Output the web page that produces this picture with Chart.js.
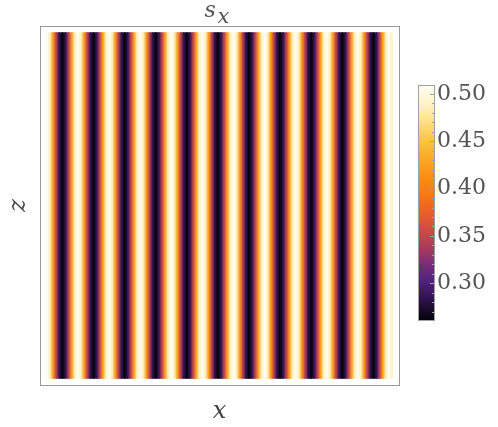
<!DOCTYPE html>
<html>
<head>
<meta charset="utf-8">
<script src="https://cdn.jsdelivr.net/npm/chart.js@4.4.1/dist/chart.umd.min.js"></script>
<style>
    html, body { margin: 0; padding: 0; background: #fff; }
    #plot { display: block; }
</style>
</head>
<body>
<canvas id="plot" width="498" height="427"></canvas>
<script>
// s_x read across x, one value per grid column (left -> right); constant along z
const sxValues = [
    0.509, 0.485, 0.423, 0.347, 0.285, 0.261, 0.285, 0.347, 0.423, 0.485,
    0.509, 0.485, 0.423, 0.347, 0.285, 0.261, 0.285, 0.347, 0.423, 0.485,
    0.509, 0.485, 0.423, 0.347, 0.285, 0.261, 0.285, 0.347, 0.423, 0.485,
    0.509, 0.485, 0.423, 0.347, 0.285, 0.261, 0.285, 0.347, 0.423, 0.485,
    0.509, 0.485, 0.423, 0.347, 0.285, 0.261, 0.285, 0.347, 0.423, 0.485,
    0.509, 0.485, 0.423, 0.347, 0.285, 0.261, 0.285, 0.347, 0.423, 0.485,
    0.509, 0.485, 0.423, 0.347, 0.285, 0.261, 0.285, 0.347, 0.423, 0.485,
    0.509, 0.485, 0.423, 0.347, 0.285, 0.261, 0.285, 0.347, 0.423, 0.485,
    0.509, 0.485, 0.423, 0.347, 0.285, 0.261, 0.285, 0.347, 0.423, 0.485,
    0.509, 0.485, 0.423, 0.347, 0.285, 0.261, 0.285, 0.347, 0.423, 0.485,
    0.509, 0.485, 0.423, 0.347, 0.285, 0.261, 0.285, 0.347, 0.423, 0.485,
    0.509, 0.485
];
const zRange = [0, 1];
const colorbarRange = [0.261, 0.5095];
const colorbarTicks = [0.30, 0.35, 0.40, 0.45, 0.50];

// Sunset-like colour map (value -> colour)
const cmapValues = [0.261, 0.275, 0.29, 0.305, 0.32, 0.335, 0.35, 0.365, 0.38,
                    0.395, 0.41, 0.425, 0.44, 0.455, 0.47, 0.485, 0.5095];
const cmapColors = ['#050308', '#1f0c33', '#3a1763', '#55247f', '#7a2c7a', '#a3385f',
                    '#c4454a', '#dc5535', '#ee6620', '#f77a12', '#fa8c14', '#fb9f20',
                    '#fcb430', '#fdc94f', '#fedf80', '#fff0b8', '#fffdf6'];

const SERIF = '"DejaVu Serif", "Liberation Serif", serif';

function hexToRgb(hex) {
    const n = parseInt(hex.slice(1), 16);
    return [(n >> 16) & 255, (n >> 8) & 255, n & 255];
}

function colorAt(v) {
    if (v <= cmapValues[0]) return cmapColors[0];
    const last = cmapValues.length - 1;
    if (v >= cmapValues[last]) return cmapColors[last];
    let i = 0;
    while (v > cmapValues[i + 1]) i++;
    const t = (v - cmapValues[i]) / (cmapValues[i + 1] - cmapValues[i]);
    const a = hexToRgb(cmapColors[i]);
    const b = hexToRgb(cmapColors[i + 1]);
    const c = a.map((ch, k) => Math.round(ch + (b[k] - ch) * t));
    return 'rgb(' + c.join(',') + ')';
}

// each column spans grid point i .. i+1, shaded from s_x[i] to s_x[i+1]
const columns = sxValues.slice(0, -1).map((v, i) => ({ x: i + 0.5, y: zRange }));

function columnFill(context) {
    const i = context.dataIndex;
    if (i === undefined) return '#000';
    const xs = context.chart.scales.x;
    const x0 = xs ? xs.getPixelForValue(i) : NaN;
    const x1 = xs ? xs.getPixelForValue(i + 1) : NaN;
    if (!Number.isFinite(x0) || !Number.isFinite(x1) || x0 === x1) {
        return colorAt(sxValues[i]);
    }
    const g = context.chart.ctx.createLinearGradient(x0, 0, x1, 0);
    g.addColorStop(0, colorAt(sxValues[i]));
    g.addColorStop(1, colorAt(sxValues[i + 1]));
    return g;
}

const padX = (sxValues.length - 1) * 0.02;
const padZ = (zRange[1] - zRange[0]) * 0.02;

// title s_x drawn above the frame
const titlePlugin = {
    id: 'sxTitle',
    afterDraw(chart) {
        const { ctx, chartArea } = chart;
        const cx = (chartArea.left + chartArea.right) / 2;
        ctx.save();
        ctx.fillStyle = '#555';
        ctx.textAlign = 'left';
        ctx.textBaseline = 'alphabetic';
        ctx.font = 'italic 22px ' + SERIF;
        ctx.fillText('s', cx - 15, chartArea.top - 9);
        ctx.font = 'italic 21px ' + SERIF;
        ctx.fillText('x', cx - 2, chartArea.top - 3);
        ctx.restore();
    }
};

// colour bar painted just left of the 'cb' scale labels
const colorbarPlugin = {
    id: 'colorbar',
    afterDraw(chart) {
        const cb = chart.scales.cb;
        const { ctx } = chart;
        const w = 16;
        const x0 = cb.left - w;
        const yTop = cb.getPixelForValue(colorbarRange[1]);
        const yBot = cb.getPixelForValue(colorbarRange[0]);
        if (!Number.isFinite(yTop) || !Number.isFinite(yBot)) return;
        const g = ctx.createLinearGradient(0, yBot, 0, yTop);
        cmapValues.forEach((v, i) => {
            const f = (v - colorbarRange[0]) / (colorbarRange[1] - colorbarRange[0]);
            g.addColorStop(Math.min(1, Math.max(0, f)), cmapColors[i]);
        });
        ctx.save();
        ctx.fillStyle = g;
        ctx.fillRect(x0, yTop, w, yBot - yTop);
        ctx.strokeStyle = '#a0a0a0';
        ctx.lineWidth = 1;
        ctx.strokeRect(Math.round(x0) + 0.5, Math.round(yTop) + 0.5, w, Math.round(yBot - yTop));
        // tick marks on the right edge
        ctx.beginPath();
        for (let t = 27; t <= 50; t++) {
            const y = Math.round(cb.getPixelForValue(t / 100)) + 0.5;
            const len = t % 5 === 0 ? 4 : 2;
            ctx.moveTo(x0 + w - len, y);
            ctx.lineTo(x0 + w + 0.5, y);
        }
        ctx.stroke();
        ctx.restore();
    }
};

const frameBorder = { display: true, color: '#999', width: 1 };
const noGrid = { display: false, drawTicks: false };

new Chart(document.getElementById('plot'), {
    type: 'bar',
    data: {
        datasets: [{
            data: columns,
            backgroundColor: columnFill,
            borderWidth: 0,
            inflateAmount: 0.6,
            barPercentage: 1,
            categoryPercentage: 1
        }]
    },
    options: {
        responsive: false,
        devicePixelRatio: 1,
        animation: false,
        events: [],
        layout: { padding: { top: 26, right: 0, bottom: 1.2, left: 0 } },
        plugins: {
            legend: { display: false },
            tooltip: { enabled: false },
            title: { display: false }
        },
        scales: {
            x: {
                type: 'linear',
                position: 'bottom',
                offset: false,
                min: -padX,
                max: sxValues.length - 1 + padX,
                grid: noGrid,
                border: frameBorder,
                ticks: { display: false },
                title: {
                    display: true,
                    text: 'x',
                    color: '#444',
                    font: { family: SERIF, size: 24, style: 'italic' },
                    padding: { top: 12, bottom: 0 }
                }
            },
            x2: {
                type: 'linear',
                position: 'top',
                offset: false,
                min: 0,
                max: 1,
                grid: noGrid,
                border: frameBorder,
                ticks: { display: false }
            },
            y: {
                type: 'linear',
                position: 'left',
                min: zRange[0] - padZ,
                max: zRange[1] + padZ,
                grid: noGrid,
                border: frameBorder,
                ticks: { display: false },
                title: {
                    display: true,
                    text: 'z',
                    color: '#444',
                    font: { family: SERIF, size: 24, style: 'italic' },
                    padding: { top: 4.6, bottom: 6.6 }
                }
            },
            y2: {
                type: 'linear',
                position: 'right',
                weight: 0,
                min: 0,
                max: 1,
                grid: noGrid,
                border: frameBorder,
                ticks: { display: false },
                afterFit(scale) { scale.width = 35; }
            },
            cb: {
                type: 'linear',
                position: 'right',
                weight: 1,
                min: 0.1924,
                max: 0.5719,
                grid: noGrid,
                border: { display: false },
                afterBuildTicks(scale) {
                    scale.ticks = colorbarTicks.map(v => ({ value: v }));
                },
                afterFit(scale) { scale.width = 64; },
                ticks: {
                    padding: 3,
                    color: '#555',
                    font: { family: SERIF, size: 22 },
                    callback: v => v.toFixed(2)
                }
            }
        }
    },
    plugins: [titlePlugin, colorbarPlugin]
});
</script>
</body>
</html>
